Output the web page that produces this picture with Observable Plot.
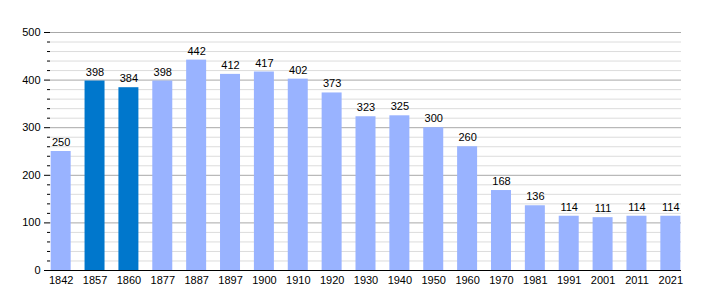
<!DOCTYPE html>
<html>
<head>
<meta charset="utf-8">
<script src="https://cdn.jsdelivr.net/npm/d3@7"></script>
<script src="https://cdn.jsdelivr.net/npm/@observablehq/plot@0.6"></script>
<style>
body { margin: 0; background: #fff; }
#chart svg { font-family: "Liberation Sans", Arial, sans-serif; }
</style>
</head>
<body>
<div id="chart"></div>
<script>
const years = ["1842","1857","1860","1877","1887","1897","1900","1910","1920","1930","1940","1950","1960","1970","1981","1991","2001","2011","2021"];
const population = [250,398,384,398,442,412,417,402,373,323,325,300,260,168,136,114,111,114,114];
const highlighted = ["1857","1860"];
const majorTicks = [0,100,200,300,400,500];
const minorTicks = d3.range(0, 501, 20).filter(v => v % 100 !== 0);

const data = years.map((y, i) => ({year: y, value: population[i], hi: highlighted.includes(y)}));

const chart = Plot.plot({
  width: 710,
  height: 300,
  marginLeft: 50,
  marginRight: 29,
  marginTop: 32,
  marginBottom: 30,
  style: {fontSize: "11px", fontFamily: "'Liberation Sans', Arial, sans-serif", color: "#000"},
  x: {domain: years, paddingInner: 0.41, paddingOuter: 0.02, round: false, label: null},
  y: {domain: [0, 500], label: null},
  marks: [
    Plot.gridY(minorTicks, {stroke: "#dcdcdc", strokeOpacity: 1}),
    Plot.gridY(majorTicks.filter(v => v > 0), {stroke: "#a8a8a8", strokeOpacity: 1}),
    Plot.barY(data, {x: "year", y: "value", fill: d => d.hi ? "#0077cc" : "#99b3ff"}),
    Plot.text(data, {x: "year", y: "value", text: d => String(d.value), dy: -9, fill: "#000", fontSize: 11}),
    Plot.axisY(majorTicks, {tickSize: 6, tickPadding: 4, fontSize: 11, stroke: "#000"}),
    Plot.axisY(minorTicks, {tickSize: 3, text: null, stroke: "#000"}),
    Plot.ruleX([0], {frameAnchor: "left", y1: 0, y2: 500, stroke: "#000"}),
    Plot.ruleY([0], {stroke: "#000"}),
    Plot.axisX({tickSize: 0, tickPadding: 6, fontSize: 11})
  ]
});
document.getElementById("chart").append(chart);
</script>
</body>
</html>
